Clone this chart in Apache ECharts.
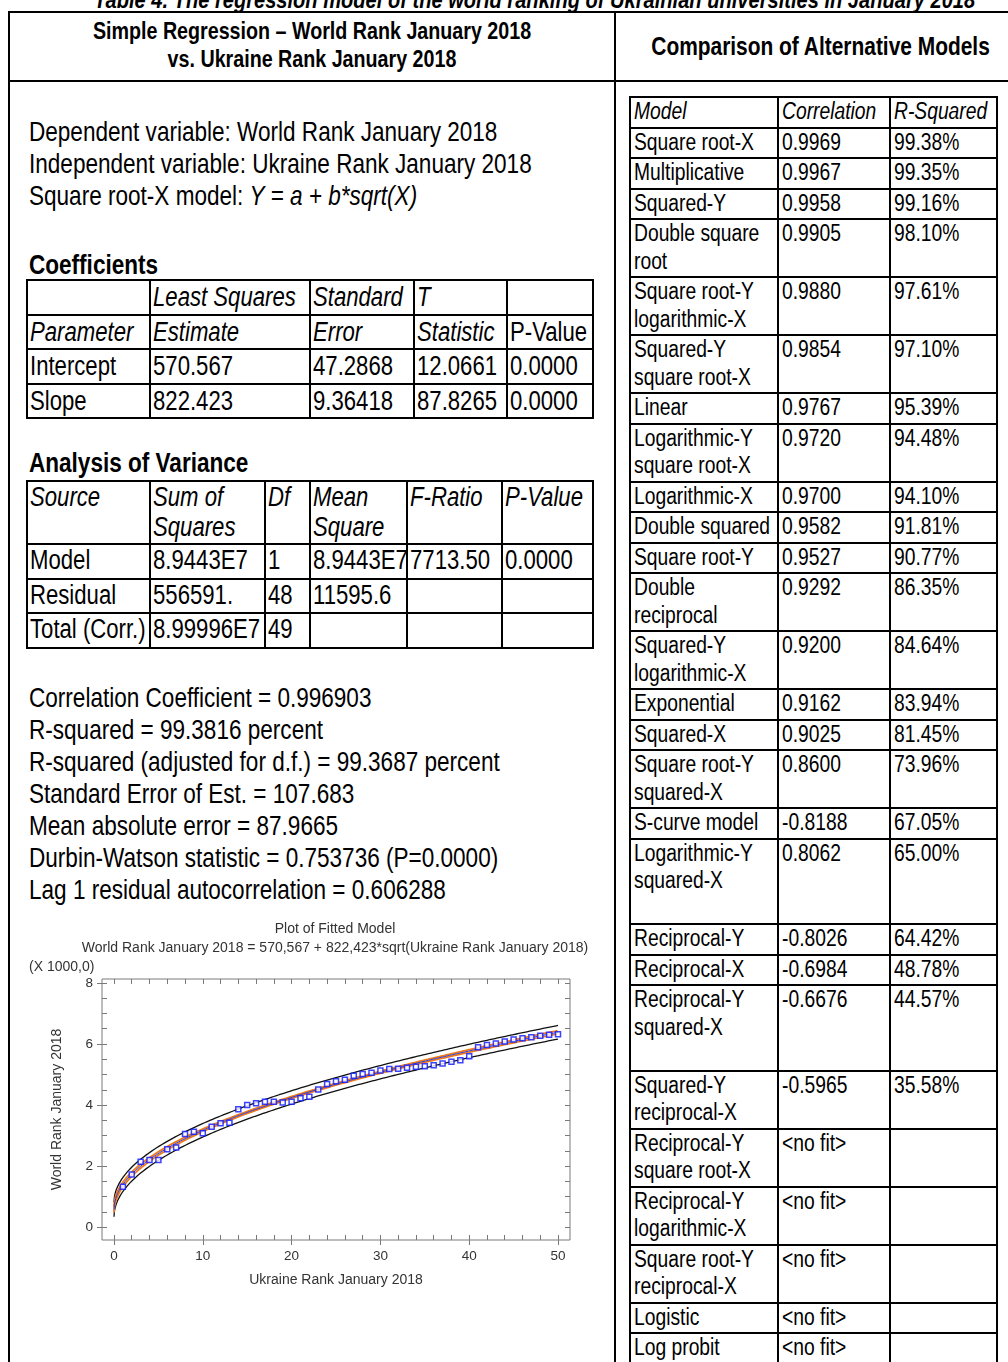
<!DOCTYPE html>
<html>
<head>
<meta charset="utf-8">
<title>Regression model of the world ranking of Ukrainian universities</title>
<script src="https://cdn.jsdelivr.net/npm/echarts@6.0.0/dist/echarts.min.js"></script>
<style>
  html, body { margin:0; padding:0; background:#fff; }
  body { width:1008px; height:1362px; position:relative; overflow:hidden;
         font-family:'Liberation Sans',Arial,sans-serif; color:#000; }
  .abs { position:absolute; }
  .rule { position:absolute; background:#000; }
  /* Arial Narrow look: regular sans squeezed horizontally */
  .txt { position:absolute; white-space:pre; transform:scaleX(0.82); transform-origin:0 0; }
  .txt.mid { transform-origin:50% 0; text-align:center; }
</style>
</head>
<body>
<div id="page"></div>
<div id="plot" class="abs" style="left:0;top:910px;width:612px;height:400px;"></div>
<script>
// ---------------- table contents ----------------
const captionText = 'Table 4. The regression model of the world ranking of Ukrainian universities in January 2018';
const leftHeading = ['Simple Regression \u2013 World Rank January 2018', 'vs. Ukraine Rank January 2018'];
const rightHeading = 'Comparison of Alternative Models';

const introLines = ['Dependent variable: World Rank January 2018',
                    'Independent variable: Ukraine Rank January 2018'];
const modelLineLead = 'Square root-X model: ';
const modelLineFormula = 'Y = a + b*sqrt(X)';

const coefHeader1 = ['', 'Least Squares', 'Standard', 'T', ''];
const coefHeader2 = ['Parameter', 'Estimate', 'Error', 'Statistic', 'P-Value'];
const coefRows = [
  ['Intercept', '570.567', '47.2868', '12.0661', '0.0000'],
  ['Slope', '822.423', '9.36418', '87.8265', '0.0000']
];

const anovaHeader = ['Source', 'Sum of\nSquares', 'Df', 'Mean\nSquare', 'F-Ratio', 'P-Value'];
const anovaRows = [
  ['Model', '8.9443E7', '1', '8.9443E7', '7713.50', '0.0000'],
  ['Residual', '556591.', '48', '11595.6', '', ''],
  ['Total (Corr.)', '8.99996E7', '49', '', '', '']
];

const summaryLines = [
  'Correlation Coefficient = 0.996903',
  'R-squared = 99.3816 percent',
  'R-squared (adjusted for d.f.) = 99.3687 percent',
  'Standard Error of Est. = 107.683',
  'Mean absolute error = 87.9665',
  'Durbin-Watson statistic = 0.753736 (P=0.0000)',
  'Lag 1 residual autocorrelation = 0.606288'
];

const compareHeader = ['Model', 'Correlation', 'R-Squared'];
const modelNames = [
  'Square root-X', 'Multiplicative', 'Squared-Y', 'Double square\nroot',
  'Square root-Y\nlogarithmic-X', 'Squared-Y\nsquare root-X', 'Linear',
  'Logarithmic-Y\nsquare root-X', 'Logarithmic-X', 'Double squared', 'Square root-Y',
  'Double\nreciprocal', 'Squared-Y\nlogarithmic-X', 'Exponential', 'Squared-X',
  'Square root-Y\nsquared-X', 'S-curve model', 'Logarithmic-Y\nsquared-X\n',
  'Reciprocal-Y', 'Reciprocal-X', 'Reciprocal-Y\nsquared-X\n', 'Squared-Y\nreciprocal-X',
  'Reciprocal-Y\nsquare root-X', 'Reciprocal-Y\nlogarithmic-X', 'Square root-Y\nreciprocal-X',
  'Logistic', 'Log probit'
];
const modelCorrelation = [
  '0.9969', '0.9967', '0.9958', '0.9905', '0.9880', '0.9854', '0.9767', '0.9720', '0.9700',
  '0.9582', '0.9527', '0.9292', '0.9200', '0.9162', '0.9025', '0.8600', '-0.8188', '0.8062',
  '-0.8026', '-0.6984', '-0.6676', '-0.5965', '<no fit>', '<no fit>', '<no fit>', '<no fit>', '<no fit>'
];
const modelRSquared = [
  '99.38%', '99.35%', '99.16%', '98.10%', '97.61%', '97.10%', '95.39%', '94.48%', '94.10%',
  '91.81%', '90.77%', '86.35%', '84.64%', '83.94%', '81.45%', '73.96%', '67.05%', '65.00%',
  '64.42%', '48.78%', '44.57%', '35.58%', '', '', '', '', ''
];

// ---------------- plot data ----------------
const ukraineRank = [1, 2, 3, 4, 5, 6, 7, 8, 9, 10, 11, 12, 13, 14, 15, 16, 17, 18, 19, 20,
                     21, 22, 23, 24, 25, 26, 27, 28, 29, 30, 31, 32, 33, 34, 35, 36, 37, 38, 39, 40,
                     41, 42, 43, 44, 45, 46, 47, 48, 49, 50];
const worldRank = [1320, 1720, 2140, 2200, 2200, 2550, 2610, 3050, 3120, 3070,
                   3290, 3400, 3420, 3860, 4000, 4060, 4110, 4110, 4080, 4110,
                   4220, 4270, 4510, 4690, 4780, 4830, 4960, 5020, 5060, 5130,
                   5180, 5190, 5220, 5250, 5270, 5300, 5360, 5420, 5470, 5600,
                   5890, 5970, 6020, 6080, 6150, 6190, 6220, 6270, 6300, 6320];
const xTickLabels = [0, 10, 20, 30, 40, 50];
const xMinorTicks = [0, 2, 4, 6, 8, 10, 12, 14, 16, 18, 20, 22, 24, 26, 28, 30, 32, 34, 36, 38, 40, 42, 44, 46, 48, 50];
const yTickLabels = [0, 2000, 4000, 6000, 8000];
const yMinorTicks = [0, 500, 1000, 1500, 2000, 2500, 3000, 3500, 4000, 4500, 5000, 5500, 6000, 6500, 7000, 7500, 8000];

// fitted model and the statistics it is drawn from
const interceptA = 570.567;
const slopeB = 822.423;
const stdErrEst = 107.683;
const tCrit = 2.0106;   // Student t, 95%, 48 d.f.

// ---------------- page builder ----------------
const page = document.getElementById('page');
function rule(x, y, w, h) {
  const d = document.createElement('div');
  d.className = 'rule';
  Object.assign(d.style, { left: x + 'px', top: y + 'px', width: w + 'px', height: h + 'px' });
  page.appendChild(d);
}
function text(str, x, y, css, centered) {
  const d = document.createElement('div');
  d.className = centered ? 'txt mid' : 'txt';
  d.textContent = str;
  Object.assign(d.style, { left: x + 'px', top: y + 'px' }, css || {});
  page.appendChild(d);
  return d;
}
function table(x0, y0, colW, rowH, cells, o) {
  const lw = 2;
  const xs = [x0]; colW.forEach(w => xs.push(xs[xs.length - 1] + w));
  const ys = [y0]; rowH.forEach(h => ys.push(ys[ys.length - 1] + h));
  const W = xs[xs.length - 1] - x0, H = ys[ys.length - 1] - y0;
  ys.forEach(y => rule(x0 - 1, y - 1, W + lw, lw));
  xs.forEach(x => rule(x - 1, y0 - 1, lw, H + lw));
  cells.forEach((row, r) => row.forEach((c, k) => {
    if (!c) return;
    text(c, xs[k] + o.padX, ys[r] + o.padY, {
      fontSize: o.fontSize + 'px', lineHeight: o.lineHeight + 'px',
      fontStyle: o.italic(r, k) ? 'italic' : 'normal'
    });
  }));
}

// caption (runs off the top edge)
text(captionText, 0, -14, { width: '1044px', fontSize: '24.5px', lineHeight: '27px',
                            fontWeight: 'bold', fontStyle: 'italic' }, true);

// outer frame
rule(8, 11, 1002, 2);
rule(8, 80, 1002, 2);
rule(8, 11, 2, 1360);
rule(614, 11, 2, 1360);

// headings
text(leftHeading.join('\n'), 10, 17, { width: '604px', fontSize: '24px', lineHeight: '28px', fontWeight: 'bold' }, true);
text(rightHeading, 616, 31, { width: '392px', fontSize: '25.5px', lineHeight: '30px', fontWeight: 'bold' }, true);

// left column
const bodyCss = { fontSize: '27.5px', lineHeight: '32px' };
text(introLines.join('\n'), 29, 116, bodyCss);
const ml = text(modelLineLead, 29, 180, bodyCss);
const em = document.createElement('i');
em.textContent = modelLineFormula;
ml.appendChild(em);

text('Coefficients', 29, 249, Object.assign({ fontWeight: 'bold' }, bodyCss));
table(27, 280, [123, 160, 104, 93, 86], [34.5, 34.5, 34.5, 34.5],
      [coefHeader1, coefHeader2].concat(coefRows),
      { padX: 3, padY: 2, fontSize: 27, lineHeight: 31, italic: (r, k) => r < 2 && !(r === 1 && k === 4) });

text('Analysis of Variance', 29, 447, Object.assign({ fontWeight: 'bold' }, bodyCss));
table(27, 481, [123, 115, 45, 97, 95, 91], [63, 34.5, 34.5, 34.5],
      [anovaHeader].concat(anovaRows),
      { padX: 3, padY: 1, fontSize: 27, lineHeight: 30, italic: (r) => r === 0 });

text(summaryLines.join('\n'), 29, 682, bodyCss);

// right column
const compareCells = [compareHeader].concat(modelNames.map((m, i) => [m, modelCorrelation[i], modelRSquared[i]]));
const compareRowH = compareCells.map(row => 3 + 27.5 * row[0].split('\n').length);
table(630, 97, [148, 112, 107], compareRowH, compareCells,
      { padX: 4, padY: 1, fontSize: 23.5, lineHeight: 27.5, italic: (r) => r === 0 });

// ---------------- plot of fitted model ----------------
const plotFont = "'Liberation Sans', Arial, sans-serif";
const n = ukraineRank.length;
const sq = ukraineRank.map(Math.sqrt);
const sqMean = sq.reduce((a, v) => a + v, 0) / n;
const sqSS = sq.reduce((a, v) => a + (v - sqMean) * (v - sqMean), 0);
const fitAt = x => interceptA + slopeB * Math.sqrt(x);
const halfWidth = (x, extra) => tCrit * stdErrEst * Math.sqrt(extra + 1 / n + Math.pow(Math.sqrt(x) - sqMean, 2) / sqSS);

const fitLine = [], confUp = [], confLo = [], predUp = [], predLo = [];
for (let i = 0; i <= 1000; i++) {
  const x = i * 0.05;
  const f = fitAt(x), c = halfWidth(x, 0), p = halfWidth(x, 1);
  fitLine.push([x, f]);
  confUp.push([x, f + c]); confLo.push([x, f - c]);
  predUp.push([x, f + p]); predLo.push([x, f - p]);
}

const axisGray = '#7a7a7a';
const labelGray = '#333';
const curve = (data, color, width, z) => ({
  type: 'line', data, showSymbol: false, silent: true, z,
  lineStyle: { color, width }, xAxisIndex: 0, yAxisIndex: 0
});
const tick = (values, inside) => ({ show: true, inside, length: 5, customValues: values, lineStyle: { color: axisGray } });
const noLine = { show: false, onZero: false };
const xBase = { type: 'value', min: -1.35, max: 51.35, splitLine: { show: false }, axisLine: noLine };
const yBase = { type: 'value', min: -426, max: 8131, splitLine: { show: false }, axisLine: noLine };

const chart = echarts.init(document.getElementById('plot'));
chart.setOption({
  animation: false,
  grid: { left: 102, top: 69, width: 468, height: 261, show: true, borderColor: axisGray, borderWidth: 1 },
  xAxis: [
    Object.assign({}, xBase, {
      position: 'bottom', axisTick: tick(xMinorTicks, true),
      axisLabel: { customValues: xTickLabels, color: labelGray, fontSize: 13.5, fontFamily: plotFont, margin: 9 },
      name: 'Ukraine Rank January 2018', nameLocation: 'middle', nameGap: 33,
      nameTextStyle: { color: labelGray, fontSize: 14, fontFamily: plotFont }
    }),
    Object.assign({}, xBase, { position: 'top', axisTick: tick(xMinorTicks, true), axisLabel: { show: false } }),
    Object.assign({}, xBase, { position: 'bottom', axisTick: tick(xTickLabels, false), axisLabel: { show: false } })
  ],
  yAxis: [
    Object.assign({}, yBase, {
      position: 'left', axisTick: tick(yMinorTicks, true),
      axisLabel: { customValues: yTickLabels, formatter: v => String(v / 1000), color: labelGray,
                   fontSize: 13.5, fontFamily: plotFont, margin: 9 },
      name: 'World Rank January 2018', nameLocation: 'middle', nameGap: 38, nameRotate: 90,
      nameTextStyle: { color: labelGray, fontSize: 14, fontFamily: plotFont }
    }),
    Object.assign({}, yBase, { position: 'right', axisTick: tick(yMinorTicks, true), axisLabel: { show: false } }),
    Object.assign({}, yBase, { position: 'left', axisTick: tick(yTickLabels, false), axisLabel: { show: false } })
  ],
  graphic: [
    { type: 'text', x: 335, y: 19, style: { text: 'Plot of Fitted Model', fill: labelGray,
      font: '14px ' + plotFont, align: 'center', verticalAlign: 'middle', textAlign: 'center', textVerticalAlign: 'middle' } },
    { type: 'text', x: 335, y: 38, style: { text: 'World Rank January 2018 = 570,567 + 822,423*sqrt(Ukraine Rank January 2018)',
      fill: labelGray, font: '14px ' + plotFont, align: 'center', verticalAlign: 'middle', textAlign: 'center', textVerticalAlign: 'middle' } },
    { type: 'text', x: 29, y: 57, style: { text: '(X 1000,0)', fill: labelGray,
      font: '14px ' + plotFont, align: 'left', verticalAlign: 'middle', textAlign: 'left', textVerticalAlign: 'middle' } }
  ],
  series: [
    curve(predUp, '#111111', 1.3, 2),
    curve(predLo, '#111111', 1.3, 2),
    curve(confUp, '#f07a1a', 1.8, 3),
    curve(confLo, '#f07a1a', 1.8, 3),
    curve(fitLine, '#2b3bd6', 1, 4),
    {
      type: 'scatter', z: 5, xAxisIndex: 0, yAxisIndex: 0,
      data: ukraineRank.map((x, i) => [x, worldRank[i]]),
      symbol: 'rect', symbolSize: 5,
      itemStyle: { color: '#ffffff', borderColor: '#0a14ff', borderWidth: 1.5 }
    }
  ]
});
</script>
</body>
</html>
